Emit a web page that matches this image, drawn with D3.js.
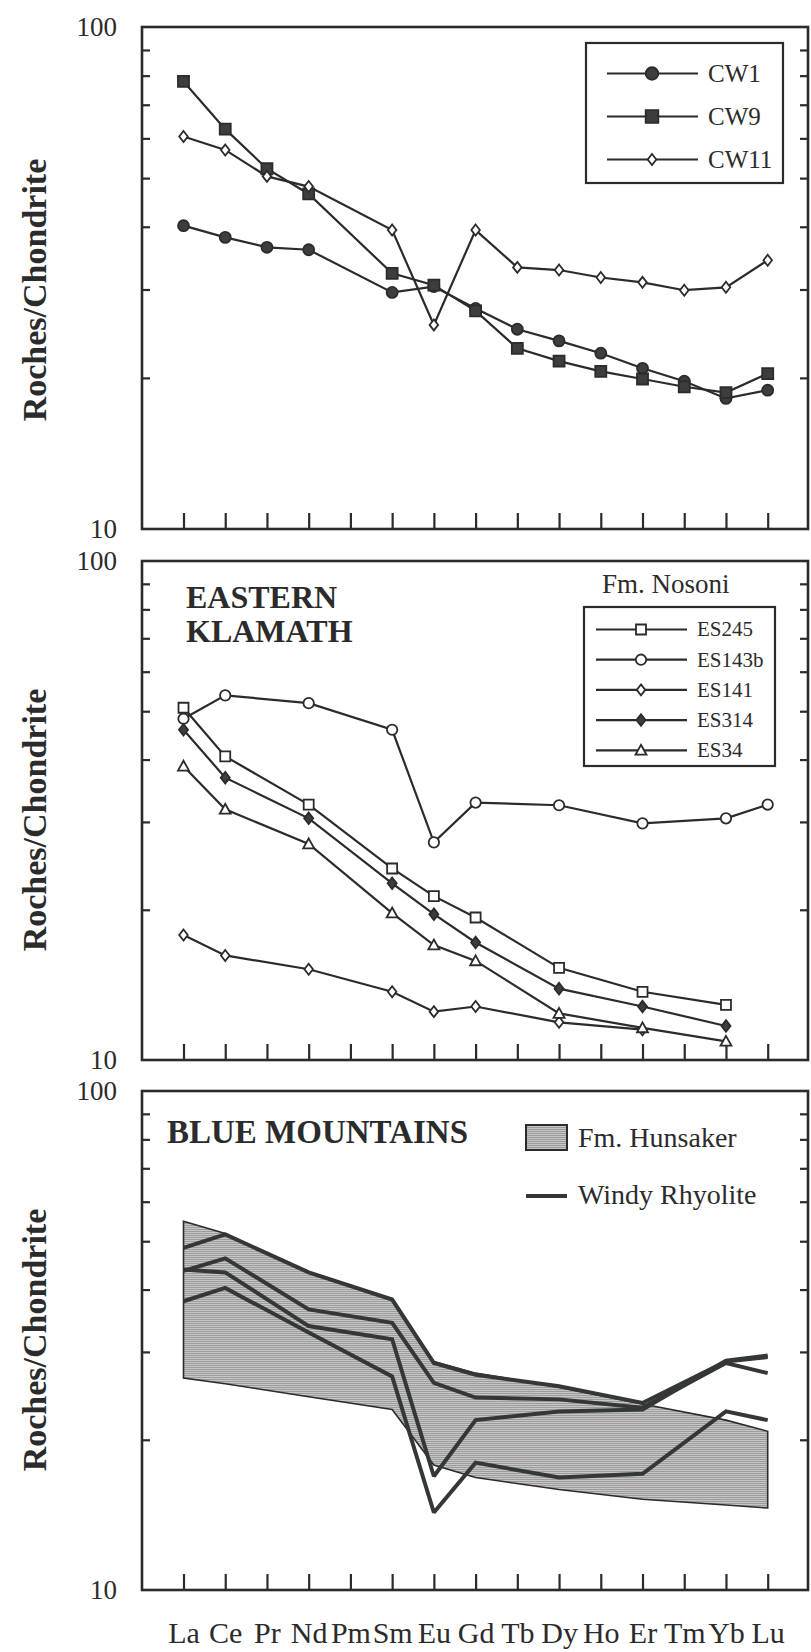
<!DOCTYPE html>
<html>
<head>
<meta charset="utf-8">
<script src="https://cdn.jsdelivr.net/npm/d3@7/dist/d3.min.js"></script>
<style>
  body { margin: 0; background: #fff; }
  svg { display: block; background: #fff; }
  text { font-family: "Liberation Serif", "Times New Roman", serif; fill: #2b2b2b; }
</style>
</head>
<body>
<div id="chart"></div>
<script>
// REE order on the x axis
const elements = ["La", "Ce", "Pr", "Nd", "Pm", "Sm", "Eu", "Gd", "Tb", "Dy", "Ho", "Er", "Tm", "Yb", "Lu"];
const yTicks = [20, 30, 40, 50, 60, 70, 80, 90];

// panel 1 - CW samples
const cwElements = ["La", "Ce", "Pr", "Nd", "Sm", "Eu", "Gd", "Tb", "Dy", "Ho", "Er", "Tm", "Yb", "Lu"];
const cw1  = [40.2, 38.1, 36.4, 36.0, 29.6, 30.4, 27.5, 25.0, 23.7, 22.4, 20.9, 19.7, 18.2, 18.9];
const cw9  = [77.9, 62.6, 52.2, 46.5, 32.3, 30.6, 27.2, 22.9, 21.6, 20.6, 19.9, 19.2, 18.7, 20.4];
const cw11 = [60.5, 56.9, 50.4, 48.1, 39.4, 25.5, 39.4, 33.2, 32.8, 31.7, 31.0, 29.9, 30.3, 34.3];

// panel 2 - Eastern Klamath, Fm. Nosoni
const esElements = ["La", "Ce", "Nd", "Sm", "Eu", "Gd", "Dy", "Er", "Yb", "Lu"];
const es245  = [50.8, 40.6, 32.5, 24.2, 21.3, 19.3, 15.3, 13.7, 12.9, null];
const es143b = [48.3, 53.8, 51.9, 45.9, 27.3, 32.8, 32.4, 29.8, 30.5, 32.5];
const es141  = [17.8, 16.2, 15.2, 13.7, 12.5, 12.8, 11.9, 11.5, null, null];
const es314  = [45.9, 36.8, 30.5, 22.6, 19.6, 17.2, 13.9, 12.8, 11.7, null];
const es34   = [38.8, 31.8, 27.1, 19.7, 17.0, 15.8, 12.4, 11.6, 10.9, null];

// panel 3 - Blue Mountains
const bmElements = ["La", "Ce", "Nd", "Sm", "Eu", "Gd", "Dy", "Er", "Yb", "Lu"];
const hunsakerHigh = [54.8, 51.8, 43.3, 38.3, 28.7, 27.2, 25.5, 23.6, 21.9, 20.8];
const hunsakerLow  = [26.6, 25.9, 24.4, 23.0, 17.8, 16.8, 15.9, 15.2, 14.8, 14.6];
const windy1 = [48.5, 51.6, 43.3, 38.2, 28.5, 27.0, 25.6, 23.7, 28.7, 29.3];
const windy2 = [43.6, 46.2, 36.5, 34.3, 26.0, 24.3, 24.1, 23.2, 28.5, 27.2];
const windy3 = [43.9, 43.3, 33.8, 31.8, 16.9, 21.9, 22.8, 23.0, 28.8, 29.5];
const windy4 = [37.9, 40.3, 32.8, 26.8, 14.3, 18.0, 16.8, 17.1, 22.8, 21.9];

const ink = "#2b2b2b", dark = "#3a3f3e";
const frameLeft = 142, frameRight = 808;
const panels = [
  {top: 27, bottom: 529, titleY: 290},
  {top: 561, bottom: 1060, titleY: 820},
  {top: 1091, bottom: 1590, titleY: 1340}
];

const svg = d3.select("#chart").append("svg").attr("width", 811).attr("height", 1652);
const x = d3.scalePoint().domain(elements).range([183.5, 767.7]);

// halftone-ish grey for the Hunsaker field
const defs = svg.append("defs");
const pat = defs.append("pattern").attr("id", "stipple").attr("patternUnits", "userSpaceOnUse").attr("width", 3).attr("height", 2);
pat.append("rect").attr("width", 3).attr("height", 2).attr("fill", "#c6c6c6");
pat.append("rect").attr("y", 1).attr("width", 3).attr("height", 1).attr("fill", "#9c9c9c");

const shapes = {
  circle: s => `M${-s},0A${s},${s} 0 1,0 ${s},0A${s},${s} 0 1,0 ${-s},0Z`,
  square: s => `M${-s},${-s}H${s}V${s}H${-s}Z`,
  diamond: s => `M0,${-s}L${s * 0.78},0L0,${s}L${-s * 0.78},0Z`,
  triangle: s => `M0,${-s}L${s},${s * 0.8}H${-s}Z`
};

function drawPanel(p, last) {
  const y = d3.scaleLog().domain([10, 100]).range([p.bottom, p.top]);
  const g = svg.append("g");
  const clean = a => { a.select(".domain").remove(); a.attr("font-size", null).attr("font-family", null); a.selectAll("line").attr("stroke", ink).attr("stroke-width", 2.2); };

  g.append("g").attr("transform", `translate(${frameLeft},0)`)
    .call(d3.axisLeft(y).tickValues(yTicks).tickSize(-8).tickFormat("")).call(clean);
  g.append("g").attr("transform", `translate(${frameRight},0)`)
    .call(d3.axisRight(y).tickValues(yTicks).tickSize(-8).tickFormat("")).call(clean);
  const bx = g.append("g").attr("transform", `translate(0,${p.bottom})`)
    .call(d3.axisBottom(x).tickSize(-16).tickPadding(32).tickFormat(last ? d => d : "")).call(clean);
  bx.selectAll("text").attr("fill", ink).style("font-size", "30px");

  g.append("rect").attr("x", frameLeft).attr("y", p.top)
    .attr("width", frameRight - frameLeft).attr("height", p.bottom - p.top)
    .attr("fill", "none").attr("stroke", ink).attr("stroke-width", 2.6);

  g.append("text").attr("x", 117).attr("y", p.top).attr("dy", "0.35em").attr("text-anchor", "end")
    .style("font-size", "27px").text("100");
  g.append("text").attr("x", 117).attr("y", p.bottom).attr("dy", "0.35em").attr("text-anchor", "end")
    .style("font-size", "27px").text("10");
  g.append("text").attr("transform", `translate(46,${p.titleY}) rotate(-90)`)
    .attr("text-anchor", "middle").style("font-size", "34px").style("font-weight", "bold")
    .text("Roches/Chondrite");
  return {g, y};
}

function drawSeries(panel, cats, series) {
  const line = d3.line().defined(d => d.v != null).x(d => x(d.k)).y(d => panel.y(d.v));
  series.forEach(s => {
    const pts = cats.map((k, i) => ({k, v: s.values[i]}));
    panel.g.append("path").datum(pts).attr("d", line)
      .attr("fill", "none").attr("stroke", ink).attr("stroke-width", 2.2);
    panel.g.selectAll(null).data(pts.filter(d => d.v != null)).enter().append("path")
      .attr("transform", d => `translate(${x(d.k)},${panel.y(d.v)})`)
      .attr("d", shapes[s.shape](s.size))
      .attr("fill", s.fill).attr("stroke", ink).attr("stroke-width", 1.8);
  });
}

function drawLegend(g, entries, box, x0, x1, xm, xt, fontSize) {
  g.append("rect").attr("x", box.x).attr("y", box.y).attr("width", box.w).attr("height", box.h)
    .attr("fill", "#fff").attr("stroke", ink).attr("stroke-width", 2.2);
  entries.forEach(e => {
    g.append("line").attr("x1", x0).attr("x2", x1).attr("y1", e.ly).attr("y2", e.ly)
      .attr("stroke", ink).attr("stroke-width", 2.2);
    g.append("path").attr("transform", `translate(${xm},${e.ly})`).attr("d", shapes[e.shape](e.size))
      .attr("fill", e.fill).attr("stroke", ink).attr("stroke-width", 1.8);
    g.append("text").attr("x", xt).attr("y", e.ly + fontSize * 0.33).style("font-size", fontSize + "px").text(e.name);
  });
}

// ---- panel 1
const p1 = drawPanel(panels[0], false);
const topSeries = [
  {name: "CW1", values: cw1, shape: "circle", size: 5.5, fill: dark},
  {name: "CW9", values: cw9, shape: "square", size: 5.5, fill: dark},
  {name: "CW11", values: cw11, shape: "diamond", size: 5.5, fill: "#fff"}
];
drawSeries(p1, cwElements, topSeries);
drawLegend(p1.g, topSeries.map((s, i) => ({...s, ly: 73.5 + i * 43, size: s.shape === "diamond" ? 5.5 : 6.3})),
  {x: 586, y: 43, w: 197, h: 140}, 607, 698, 652, 708, 25);

// ---- panel 2
const p2 = drawPanel(panels[1], false);
const midSeries = [
  {name: "ES245", values: es245, shape: "square", size: 5, fill: "#fff"},
  {name: "ES143b", values: es143b, shape: "circle", size: 5.2, fill: "#fff"},
  {name: "ES141", values: es141, shape: "diamond", size: 5.5, fill: "#fff"},
  {name: "ES314", values: es314, shape: "diamond", size: 5.8, fill: dark},
  {name: "ES34", values: es34, shape: "triangle", size: 5.5, fill: "#fff"}
];
drawSeries(p2, esElements, midSeries);
p2.g.append("text").attr("x", 186).attr("y", 608).style("font-size", "32px").style("font-weight", "bold").text("EASTERN");
p2.g.append("text").attr("x", 186).attr("y", 642).style("font-size", "32px").style("font-weight", "bold").text("KLAMATH");
p2.g.append("text").attr("x", 602).attr("y", 593).style("font-size", "27px").text("Fm. Nosoni");
drawLegend(p2.g, midSeries.map((s, i) => ({...s, ly: 629.5 + i * 30.2})),
  {x: 584, y: 607, w: 191, h: 159}, 596, 687, 641, 697, 21);

// ---- panel 3
const p3 = drawPanel(panels[2], true);
const band = bmElements.map((k, i) => ({k, hi: hunsakerHigh[i], lo: hunsakerLow[i]}));
p3.g.insert("path", ":scope > rect").datum(band)
  .attr("d", d3.area().x(d => x(d.k)).y0(d => p3.y(d.lo)).y1(d => p3.y(d.hi)))
  .attr("fill", "url(#stipple)").attr("stroke", ink).attr("stroke-width", 1.6);
const windy = [windy1, windy2, windy3, windy4];
const wline = d3.line().x(d => x(d.k)).y(d => p3.y(d.v));
windy.forEach(vals => {
  p3.g.append("path").datum(bmElements.map((k, i) => ({k, v: vals[i]})))
    .attr("d", wline).attr("fill", "none").attr("stroke", "#333837")
    .attr("stroke-width", 4).attr("stroke-linejoin", "miter").attr("stroke-miterlimit", 2);
});
p3.g.append("text").attr("x", 167).attr("y", 1143).style("font-size", "33px").style("font-weight", "bold").text("BLUE MOUNTAINS");
p3.g.append("rect").attr("x", 526).attr("y", 1125).attr("width", 41).attr("height", 25)
  .attr("fill", "url(#stipple)").attr("stroke", ink).attr("stroke-width", 2);
p3.g.append("text").attr("x", 578).attr("y", 1147).style("font-size", "28px").text("Fm. Hunsaker");
p3.g.append("line").attr("x1", 526).attr("x2", 567).attr("y1", 1196).attr("y2", 1196)
  .attr("stroke", "#333837").attr("stroke-width", 4);
p3.g.append("text").attr("x", 578).attr("y", 1204).style("font-size", "28px").text("Windy Rhyolite");
</script>
</body>
</html>
